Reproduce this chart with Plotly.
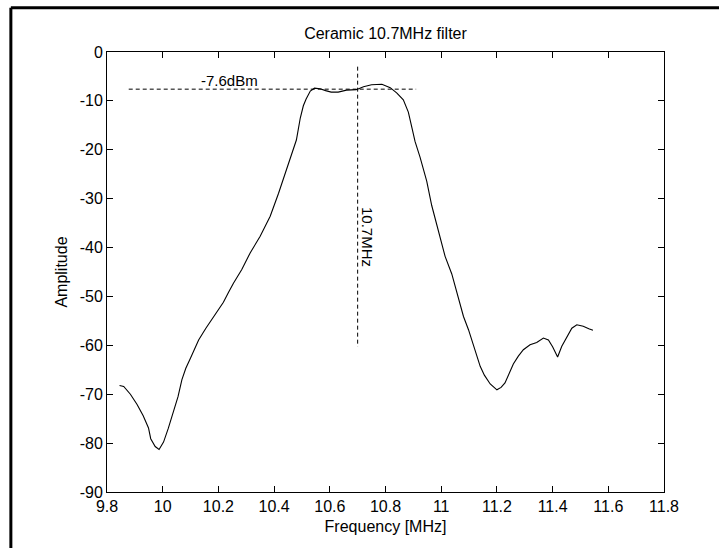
import plotly.graph_objects as go

# Measured response of a 10.7 MHz ceramic IF filter
freq_mhz = [
    9.845, 9.860, 9.884, 9.908, 9.930, 9.949, 9.957, 9.973, 9.987, 10.003,
    10.020, 10.036, 10.055, 10.069, 10.083, 10.100, 10.129, 10.155, 10.175, 10.200,
    10.218, 10.236, 10.254, 10.284, 10.314, 10.350, 10.386, 10.416, 10.436, 10.452,
    10.470, 10.480, 10.494, 10.505, 10.515, 10.530, 10.545, 10.565, 10.585, 10.605,
    10.630, 10.660, 10.695, 10.721, 10.750, 10.787, 10.817, 10.841, 10.864, 10.882,
    10.895, 10.906, 10.924, 10.948, 10.966, 10.990, 11.014, 11.038, 11.056, 11.080,
    11.098, 11.110, 11.125, 11.140, 11.155, 11.176, 11.200, 11.215, 11.229, 11.244,
    11.259, 11.277, 11.295, 11.319, 11.343, 11.367, 11.385, 11.400, 11.418, 11.433,
    11.445, 11.469, 11.487, 11.510, 11.530, 11.545,
]
amplitude_db = [
    -68.2, -68.4, -70.0, -72.1, -74.4, -76.9, -79.1, -80.7, -81.3, -79.8,
    -77.0, -74.2, -70.5, -67.0, -64.7, -62.6, -58.9, -56.5, -54.8, -52.6,
    -51.2, -49.2, -47.3, -44.5, -41.1, -37.7, -33.6, -28.9, -25.5, -22.7,
    -20.0, -18.0, -13.5, -11.0, -9.6, -8.0, -7.4, -7.5, -7.9, -8.2,
    -8.2, -7.8, -7.7, -7.1, -6.7, -6.6, -7.3, -8.4, -9.8, -12.3,
    -15.5, -18.3, -21.5, -26.4, -31.4, -36.6, -41.8, -45.4, -49.3, -54.1,
    -56.8, -58.9, -61.6, -64.3, -66.1, -67.9, -69.1, -68.6, -67.7, -65.8,
    -63.8, -62.2, -60.9, -59.9, -59.4, -58.5, -58.9, -60.3, -62.4, -60.2,
    -58.9, -56.5, -55.8, -56.1, -56.6, -56.9,
]

# Reference markers: passband level and centre frequency
ref_level_db = -7.6
ref_level_span = [9.878, 10.910]
centre_freq = 10.7
centre_span_db = [-3.0, -60.3]

x_ticks = [9.8, 10, 10.2, 10.4, 10.6, 10.8, 11, 11.2, 11.4, 11.6, 11.8]
x_tick_text = ["9.8", "10", "10.2", "10.4", "10.6", "10.8", "11", "11.2", "11.4", "11.6", "11.8"]
y_ticks = [0, -10, -20, -30, -40, -50, -60, -70, -80, -90]
y_tick_text = ["0", "-10", "-20", "-30", "-40", "-50", "-60", "-70", "-80", "-90"]

FONT = "Liberation Sans, Arial, sans-serif"

fig = go.Figure()

fig.add_trace(go.Scatter(
    x=freq_mhz, y=amplitude_db, mode="lines",
    line=dict(color="black", width=1.1),
    showlegend=False, hoverinfo="x+y",
))

fig.add_trace(go.Scatter(
    x=ref_level_span, y=[ref_level_db, ref_level_db], mode="lines",
    line=dict(color="black", width=1, dash="4px,3px"),
    showlegend=False, hoverinfo="skip",
))

fig.add_trace(go.Scatter(
    x=[centre_freq, centre_freq], y=centre_span_db, mode="lines",
    line=dict(color="black", width=1, dash="4px,3px"),
    showlegend=False, hoverinfo="skip",
))

fig.add_annotation(
    x=10.24, y=-5.9, text="-7.6dBm", showarrow=False,
    font=dict(family=FONT, size=15, color="black"),
    xanchor="center", yanchor="middle",
)
fig.add_annotation(
    x=10.733, y=-37.8, text="10.7MHz", showarrow=False, textangle=90,
    font=dict(family=FONT, size=15, color="black"),
    xanchor="center", yanchor="middle",
)

axis_common = dict(
    showgrid=False, zeroline=False,
    showline=True, linecolor="black", linewidth=1, mirror="allticks",
    ticks="inside", ticklen=6, tickwidth=1, tickcolor="black",
    tickfont=dict(family=FONT, size=16, color="black"),
)

fig.update_xaxes(
    range=[9.8, 11.8], tickvals=x_ticks, ticktext=x_tick_text,
    title=dict(text="Frequency [MHz]", font=dict(family=FONT, size=16, color="black"), standoff=6),
    **axis_common,
)
fig.update_yaxes(
    range=[-90, 0], tickvals=y_ticks, ticktext=y_tick_text,
    title=dict(text="Amplitude", font=dict(family=FONT, size=16, color="black"), standoff=8),
    **axis_common,
)

# Window frame (top and left edges)
fig.add_shape(type="line", xref="paper", yref="paper",
              x0=-0.1726, x1=1.2, y0=1.1004, y1=1.1004,
              line=dict(color="black", width=3))
fig.add_shape(type="line", xref="paper", yref="paper",
              x0=-0.1726, x1=-0.1726, y0=-0.2, y1=1.1004,
              line=dict(color="black", width=3))

fig.update_layout(
    width=719, height=548,
    margin=dict(l=107, r=55, t=52, b=56),
    paper_bgcolor="white", plot_bgcolor="white",
    title=dict(text="Ceramic 10.7MHz filter", x=0.5, xanchor="center",
               y=1 - 33 / 548, yanchor="middle", xref="paper",
               font=dict(family=FONT, size=16, color="black")),
)

fig.write_html("out.html")
